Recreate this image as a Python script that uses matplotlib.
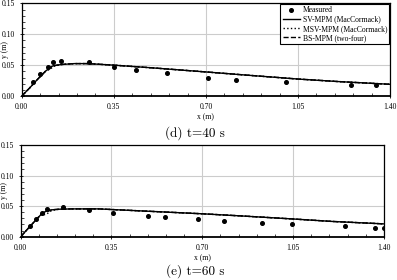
import matplotlib
matplotlib.use("Agg")
import matplotlib.pyplot as plt
from matplotlib.ticker import MultipleLocator, FormatStrFormatter

# ---- data: t = 40 s ----
meas40_x = [0.0, 0.044, 0.070, 0.099, 0.120, 0.149, 0.257, 0.352, 0.433, 0.551, 0.707, 0.816, 1.004, 1.252, 1.348]
meas40_y = [0.0, 0.022, 0.035, 0.047, 0.0555, 0.0566, 0.0545, 0.0474, 0.0426, 0.0375, 0.030, 0.026, 0.0225, 0.0185, 0.0182]
sim40_x = [0.0, 0.03, 0.06, 0.09, 0.11, 0.12, 0.15, 0.20, 0.25, 0.35, 0.50, 0.70, 0.85, 1.05, 1.20, 1.40]
sv40_y  = [0.0, 0.013, 0.027, 0.040, 0.047, 0.049, 0.051, 0.0525, 0.0525, 0.050, 0.0455, 0.039, 0.034, 0.0275, 0.0235, 0.019]
msv40_y = [0.0, 0.013, 0.027, 0.040, 0.044, 0.048, 0.051, 0.0525, 0.0525, 0.050, 0.0455, 0.039, 0.034, 0.0275, 0.0235, 0.019]
bs40_y  = [0.0, 0.013, 0.027, 0.040, 0.046, 0.049, 0.051, 0.0525, 0.0525, 0.050, 0.0455, 0.039, 0.034, 0.0275, 0.0235, 0.019]

# ---- data: t = 60 s ----
meas60_x = [0.0, 0.036, 0.059, 0.082, 0.100, 0.162, 0.263, 0.357, 0.489, 0.558, 0.682, 0.783, 0.932, 1.044, 1.252, 1.364, 1.400]
meas60_y = [0.0, 0.018, 0.029, 0.039, 0.046, 0.048, 0.043, 0.038, 0.0344, 0.032, 0.029, 0.0257, 0.0224, 0.020, 0.017, 0.0148, 0.0148]
sim60_x = [0.0, 0.03, 0.06, 0.08, 0.09, 0.10, 0.12, 0.15, 0.20, 0.30, 0.35, 0.50, 0.70, 0.85, 1.05, 1.20, 1.40]
sv60_y  = [0.0, 0.014, 0.028, 0.037, 0.040, 0.042, 0.044, 0.045, 0.0455, 0.0455, 0.0445, 0.0415, 0.0375, 0.034, 0.029, 0.025, 0.021]
msv60_y = [0.0, 0.014, 0.028, 0.037, 0.036, 0.037, 0.043, 0.045, 0.0455, 0.0455, 0.0445, 0.0415, 0.0375, 0.034, 0.029, 0.025, 0.021]
bs60_y  = [0.0, 0.014, 0.028, 0.037, 0.039, 0.041, 0.044, 0.045, 0.0455, 0.0455, 0.0445, 0.0415, 0.0375, 0.034, 0.029, 0.025, 0.021]

xticks = [0.00, 0.35, 0.70, 1.05, 1.40]
yticks = [0.00, 0.05, 0.10, 0.15]
captions = ["(d) t=40 s", "(e) t=60 s"]
labels = ["Measured", "SV-MPM (MacCormack)", "MSV-MPM (MacCormack)", "BS-MPM (two-four)"]

serif = ["Liberation Serif", "DejaVu Serif"]
fig = plt.figure(figsize=(3.97, 2.80), dpi=100)
ax1 = fig.add_axes([0.0547, 0.657, 0.928, 0.331])
ax2 = fig.add_axes([0.052, 0.1546, 0.915, 0.3275])

panels = [
    (ax1, meas40_x, meas40_y, sim40_x, sv40_y, msv40_y, bs40_y),
    (ax2, meas60_x, meas60_y, sim60_x, sv60_y, msv60_y, bs60_y),
]
for i, (ax, mx, my, sx, sv, msv, bs) in enumerate(panels):
    ax.plot(mx, my, "o", color="black", ms=2.6, label=labels[0], zorder=5)
    ax.plot(sx, sv, "-", color="black", lw=1.0, label=labels[1])
    ax.plot(sx, msv, ":", color="black", lw=1.0, label=labels[2])
    ax.plot(sx, bs, "--", color="black", lw=1.0, label=labels[3])
    ax.set_xlim(0, 1.40)
    ax.set_ylim(0, 0.15)
    ax.set_xticks(xticks)
    ax.set_yticks(yticks)
    ax.xaxis.set_major_formatter(FormatStrFormatter("%.2f"))
    ax.yaxis.set_major_formatter(FormatStrFormatter("%.2f"))
    ax.xaxis.set_minor_locator(MultipleLocator(0.07))
    ax.yaxis.set_minor_locator(MultipleLocator(0.01))
    ax.grid(True, which="major", color="#cccccc", lw=0.8)
    ax.set_axisbelow(True)
    ax.tick_params(which="major", direction="inout", length=3, width=0.6, labelsize=5.5)
    ax.tick_params(which="minor", direction="in", length=2, width=0.5)
    for lab in ax.get_xticklabels() + ax.get_yticklabels():
        lab.set_family(serif)
    for sp in ax.spines.values():
        sp.set_linewidth(0.9)
    ax.spines["bottom"].set_linewidth(1.3)
    ax.set_xlabel("x (m)", fontsize=5.5, family=serif, labelpad=1.5)
    ax.set_ylabel("y (m)", fontsize=5.5, family=serif)
    ax.yaxis.label.set_va("center")
    ax.yaxis.set_label_coords(-0.046, 0.5)

leg = ax1.legend(loc="upper right", fontsize=5.5, frameon=True, fancybox=False,
                 edgecolor="black", framealpha=1, borderpad=0.3, labelspacing=0.15,
                 handlelength=2.2, handletextpad=0.4, borderaxespad=0.1,
                 prop={"family": serif, "size": 5.5})
leg.get_frame().set_linewidth(0.8)

fig.text(0.492, 0.525, captions[0], fontsize=9.5, family=["cmr10", "DejaVu Serif"], ha="center", va="center")
fig.text(0.492, 0.032, captions[1], fontsize=9.5, family=["cmr10", "DejaVu Serif"], ha="center", va="center")

fig.savefig("out.png", dpi=100)
